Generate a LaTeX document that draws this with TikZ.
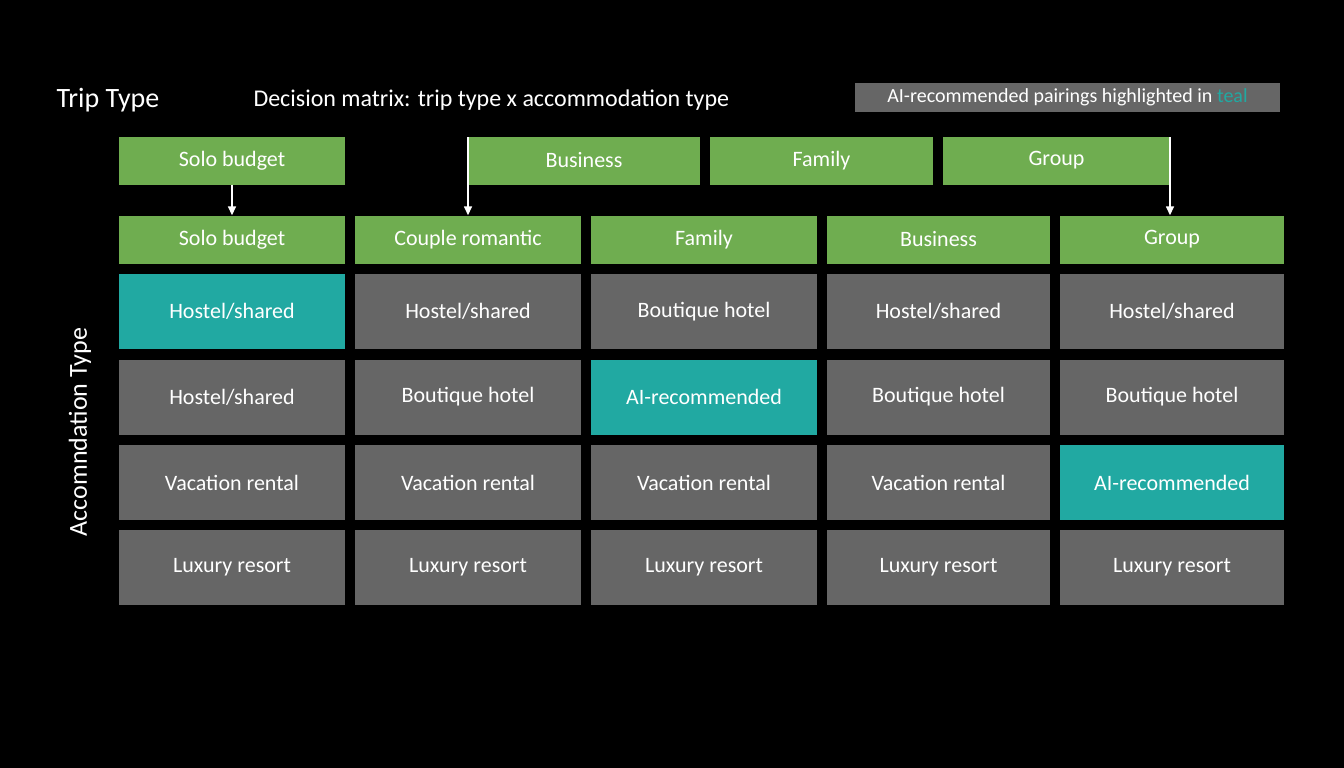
\documentclass[tikz,border=0pt]{standalone}
\usepackage{fontspec}
\setmainfont{Carlito}
\definecolor{cellgreen}{HTML}{6FAD50}
\definecolor{cellgray}{HTML}{666666}
\definecolor{cellteal}{HTML}{21A9A2}
\usetikzlibrary{arrows.meta}

\begin{document}
\begin{tikzpicture}[x=1pt,y=-1pt,
    hdr/.style={fill=cellgreen,text=white,minimum height=48pt,inner sep=0pt,font=\fontsize{22}{24}\selectfont},
    cell/.style={fill=cellgray,text=white,minimum width=226pt,minimum height=75pt,inner sep=0pt,font=\fontsize{22}{24}\selectfont},
    pick/.style={cell,fill=cellteal},
    down/.style={-{Triangle[width=8pt,length=9pt]},white,line width=1.5pt}]
      \fill[black] (0,0) rectangle (1344,768);
      \draw (53,100) node[anchor=west,text=white,font=\fontsize{28}{30}\selectfont] (title) {Trip Type};
      \draw (250,100) node[anchor=west,text=white,font=\fontsize{24}{26}\selectfont] (sub) {Decision matrix: trip type x accommodation type};
      \draw (1067.5,97.5) node[fill=cellgray,text=white,minimum width=425pt,minimum height=29pt,inner sep=0pt,font=\fontsize{20}{22}\selectfont] (legend) {AI-recommended pairings highlighted in \textcolor{cellteal}{teal}};
      \draw (80,432) node[rotate=90,text=white,font=\fontsize{26}{28}\selectfont] (ylab) {Accomndation Type};

      % upper row
      \draw (232,160.5) node[hdr,minimum width=226pt] (T1) {Solo budget};
      \draw (584,160.5) node[hdr,minimum width=232pt] (T2) {Business};
      \draw (821.5,160.5) node[hdr,minimum width=223pt] (T3) {Family};
      \draw (1056.5,160.5) node[hdr,minimum width=227pt] (T4) {Group};

      % matrix header
      \draw (232,239.5) node[hdr,minimum width=226pt] (H1) {Solo budget};
      \draw (468,239.5) node[hdr,minimum width=226pt] (H2) {Couple romantic};
      \draw (704,239.5) node[hdr,minimum width=226pt] (H3) {Family};
      \draw (938.5,239.5) node[hdr,minimum width=223pt] (H4) {Business};
      \draw (1172,239.5) node[hdr,minimum width=224pt] (H5) {Group};

      \coordinate (s2) at (468,137);
      \coordinate (s5) at (1170,137);
      \draw[down] (T1.south) -- (H1.north);
      \draw[down] (s2) -- (H2.north);
      \draw[down] (s5) -- (H5.north -| s5);

      % matrix cells
      \draw (232,311.5) node[pick] (c11) {Hostel/shared};
      \draw (468,311.5) node[cell] (c12) {Hostel/shared};
      \draw (704,311.5) node[cell] (c13) {Boutique hotel};
      \draw (938.5,311.5) node[cell,minimum width=223pt] (c14) {Hostel/shared};
      \draw (1172,311.5) node[cell,minimum width=224pt] (c15) {Hostel/shared};

      \draw (232,397) node[cell] (c21) {Hostel/shared};
      \draw (468,397) node[cell] (c22) {Boutique hotel};
      \draw (704,397) node[pick] (c23) {AI-recommended};
      \draw (938.5,397) node[cell,minimum width=223pt] (c24) {Boutique hotel};
      \draw (1172,397) node[cell,minimum width=224pt] (c25) {Boutique hotel};

      \draw (232,482.5) node[cell] (c31) {Vacation rental};
      \draw (468,482.5) node[cell] (c32) {Vacation rental};
      \draw (704,482.5) node[cell] (c33) {Vacation rental};
      \draw (938.5,482.5) node[cell,minimum width=223pt] (c34) {Vacation rental};
      \draw (1172,482.5) node[pick,minimum width=224pt] (c35) {AI-recommended};

      \draw (232,567) node[cell] (c41) {Luxury resort};
      \draw (468,567) node[cell] (c42) {Luxury resort};
      \draw (704,567) node[cell] (c43) {Luxury resort};
      \draw (938.5,567) node[cell,minimum width=223pt] (c44) {Luxury resort};
      \draw (1172,567) node[cell,minimum width=224pt] (c45) {Luxury resort};
    \end{tikzpicture}
\end{document}
